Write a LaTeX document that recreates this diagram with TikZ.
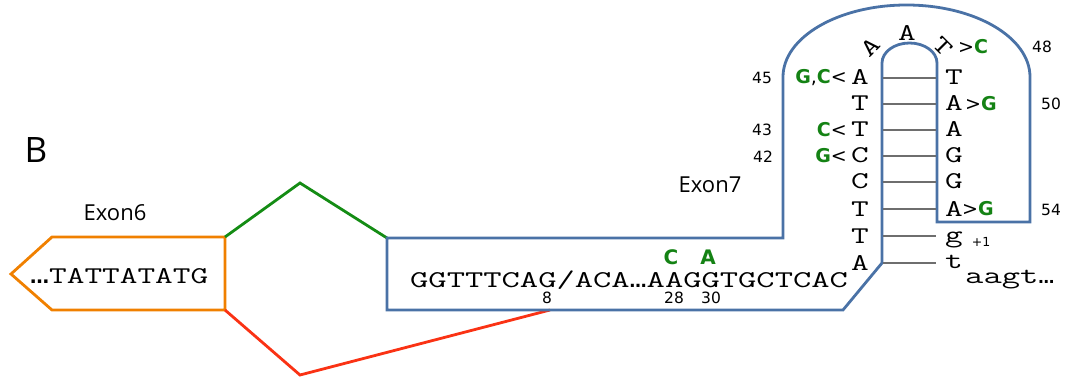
\documentclass[tikz,border=0pt]{standalone}
\usepackage{fontspec}
\newfontfamily\labfont{Open Sans}
\newfontfamily\numfont{DejaVu Sans}
\definecolor{exblue}{RGB}{74,114,166}
\definecolor{exorange}{RGB}{240,128,0}
\definecolor{lngreen}{RGB}{20,140,20}
\definecolor{lnred}{RGB}{250,50,20}
\definecolor{mutgreen}{RGB}{20,130,20}
\definecolor{runggray}{RGB}{110,110,110}
\newcommand{\gm}[1]{\textcolor{mutgreen}{\bfseries #1}}
\newcommand{\wide}[1]{\scalebox{1.43}[1]{#1}}
\newcommand{\wider}[1]{\scalebox{1.48}[1]{#1}}
\newcommand{\sdots}[1]{{\numfont\bfseries\fontsize{#1}{#1}\selectfont …}}
\tikzset{
  seq/.style={font={\ttfamily\fontsize{24}{28}\selectfont}, inner sep=0pt, anchor=base west},
  base/.style={font={\ttfamily\fontsize{24}{28}\selectfont}, inner sep=0pt, anchor=base},
  ann/.style={font={\numfont\fontsize{19}{22}\selectfont}, inner sep=0pt},
  numl/.style={font={\numfont\fontsize{15.5}{18}\selectfont}, inner sep=0pt},
  lab/.style={font={\labfont\fontsize{22}{26}\selectfont}, inner sep=0pt},
  rung/.style={draw=runggray, line width=1.8pt},
  exonline/.style={line width=2.8pt, line join=miter},
}
\begin{document}
\begin{tikzpicture}[x=1pt,y=-1pt]
\useasboundingbox (0,0) rectangle (1066,377);
% label B
\node[lab, font={\labfont\fontsize{35}{40}\selectfont}] (B) at (36,150) {B};
\node[lab] (ex6) at (115,213) {Exon6};
\node[lab] (ex7) at (710,185) {Exon7};
% exon 6 box
\coordinate (e6tl) at (52,237);
\coordinate (e6tr) at (225,237);
\coordinate (e6br) at (225,310);
\coordinate (e6bl) at (52,310);
\coordinate (e6tip) at (11,274);
\draw[exonline, draw=exorange] (e6tl) -- (e6tr) -- (e6br) -- (e6bl) -- (e6tip) -- cycle;
\node[seq] (s6) at (30,283) {\sdots{19}\wide{TATTATATG}};
% splice connectors
\coordinate (gpk) at (300,183);
\coordinate (rpk) at (300,375);
\coordinate (e7tl) at (387,238);
\coordinate (e7b) at (550,310);
\draw[exonline, draw=lngreen] (e6tr) -- (gpk) -- (e7tl);
\draw[exonline, draw=lnred] (e6br) -- (rpk) -- (e7b);
% exon 7 outline with hairpin
\draw[exonline, draw=exblue] (e7tl) -- (783,238) -- (783,77)
  arc[start angle=180, end angle=0, x radius=123.5pt, y radius=72pt]
  -- (1030,222) -- (937,222) -- (937,63)
  arc[start angle=0, end angle=180, x radius=27.5pt, y radius=20pt]
  -- (882,263) -- (843,310) -- (e7b) -- (387,310) -- cycle;
% rungs
\foreach \yy in {78,104,130,156,182,209,236,263}
  \draw[rung] (883,\yy) -- (936,\yy);
% left column
\node[base] (l1) at (860,85) {\wide{A}};
\node[base] (l2) at (860,111) {\wide{T}};
\node[base] (l3) at (860,137) {\wide{T}};
\node[base] (l4) at (860,163) {\wide{C}};
\node[base] (l5) at (860,189) {\wide{C}};
\node[base] (l6) at (860,216) {\wide{T}};
\node[base] (l7) at (860,243) {\wide{T}};
\node[base] (l8) at (860,270) {\wide{A}};
% right column
\node[base] (r1) at (954,85) {\wide{T}};
\node[base] (r2) at (954,111) {\wide{A}};
\node[base] (r3) at (954,137) {\wide{A}};
\node[base] (r4) at (954,163) {\wide{G}};
\node[base] (r5) at (954,189) {\wide{G}};
\node[base] (r6) at (954,216) {\wide{A}};
\node[base] (r7) at (954,242) {\wide{g}};
\node[base] (r8) at (954,268) {\wide{t}};
\node[seq] (tail) at (965,283) {\wider{aagt}\sdots{16}};
\node[numl, font={\numfont\fontsize{12.5}{14}\selectfont}] (p1) at (981,242) {+1};
% loop
\node[base, anchor=center, rotate=45] (lpA1) at (870,47) {\wide{A}};
\node[base, anchor=center] (lpA2) at (907,33) {\wide{A}};
\node[base, anchor=center, rotate=-45] (lpT) at (943,47) {\wide{T}};
\node[ann, anchor=west] (m48a) at (958,47) {>\gm{C}};
% mutations left
\node[ann, anchor=east] (m45) at (847,78) {\gm{G},\gm{C}<};
\node[ann, anchor=east] (m43) at (847,130) {\gm{C}<};
\node[ann, anchor=east] (m42) at (847,156) {\gm{G}<};
% mutations right
\node[ann, anchor=west] (m50) at (965,104) {>\gm{G}};
\node[ann, anchor=west] (m54) at (962,209) {>\gm{G}};
% position numbers
\node[numl] (n45) at (762,78) {45};
\node[numl] (n43) at (762,130) {43};
\node[numl] (n42) at (763,157) {42};
\node[numl] (n48) at (1042,47) {48};
\node[numl] (n50) at (1051,104) {50};
\node[numl] (n54) at (1051,210) {54};
% exon 7 sequence
\node[seq] (s7) at (410,287) {\wider{GGTTTCAG/ACA}\sdots{17}\wider{AAGGTGCTCAC}};
\node[numl] (n8) at (547,298) {8};
\node[numl] (n28) at (674,298) {28};
\node[numl] (n30) at (711,298) {30};
\node[ann, font={\numfont\bfseries\fontsize{20}{24}\selectfont}] (mC) at (671,257) {\gm{C}};
\node[ann, font={\numfont\bfseries\fontsize{20}{24}\selectfont}] (mA) at (708,257) {\gm{A}};
\end{tikzpicture}
\end{document}
